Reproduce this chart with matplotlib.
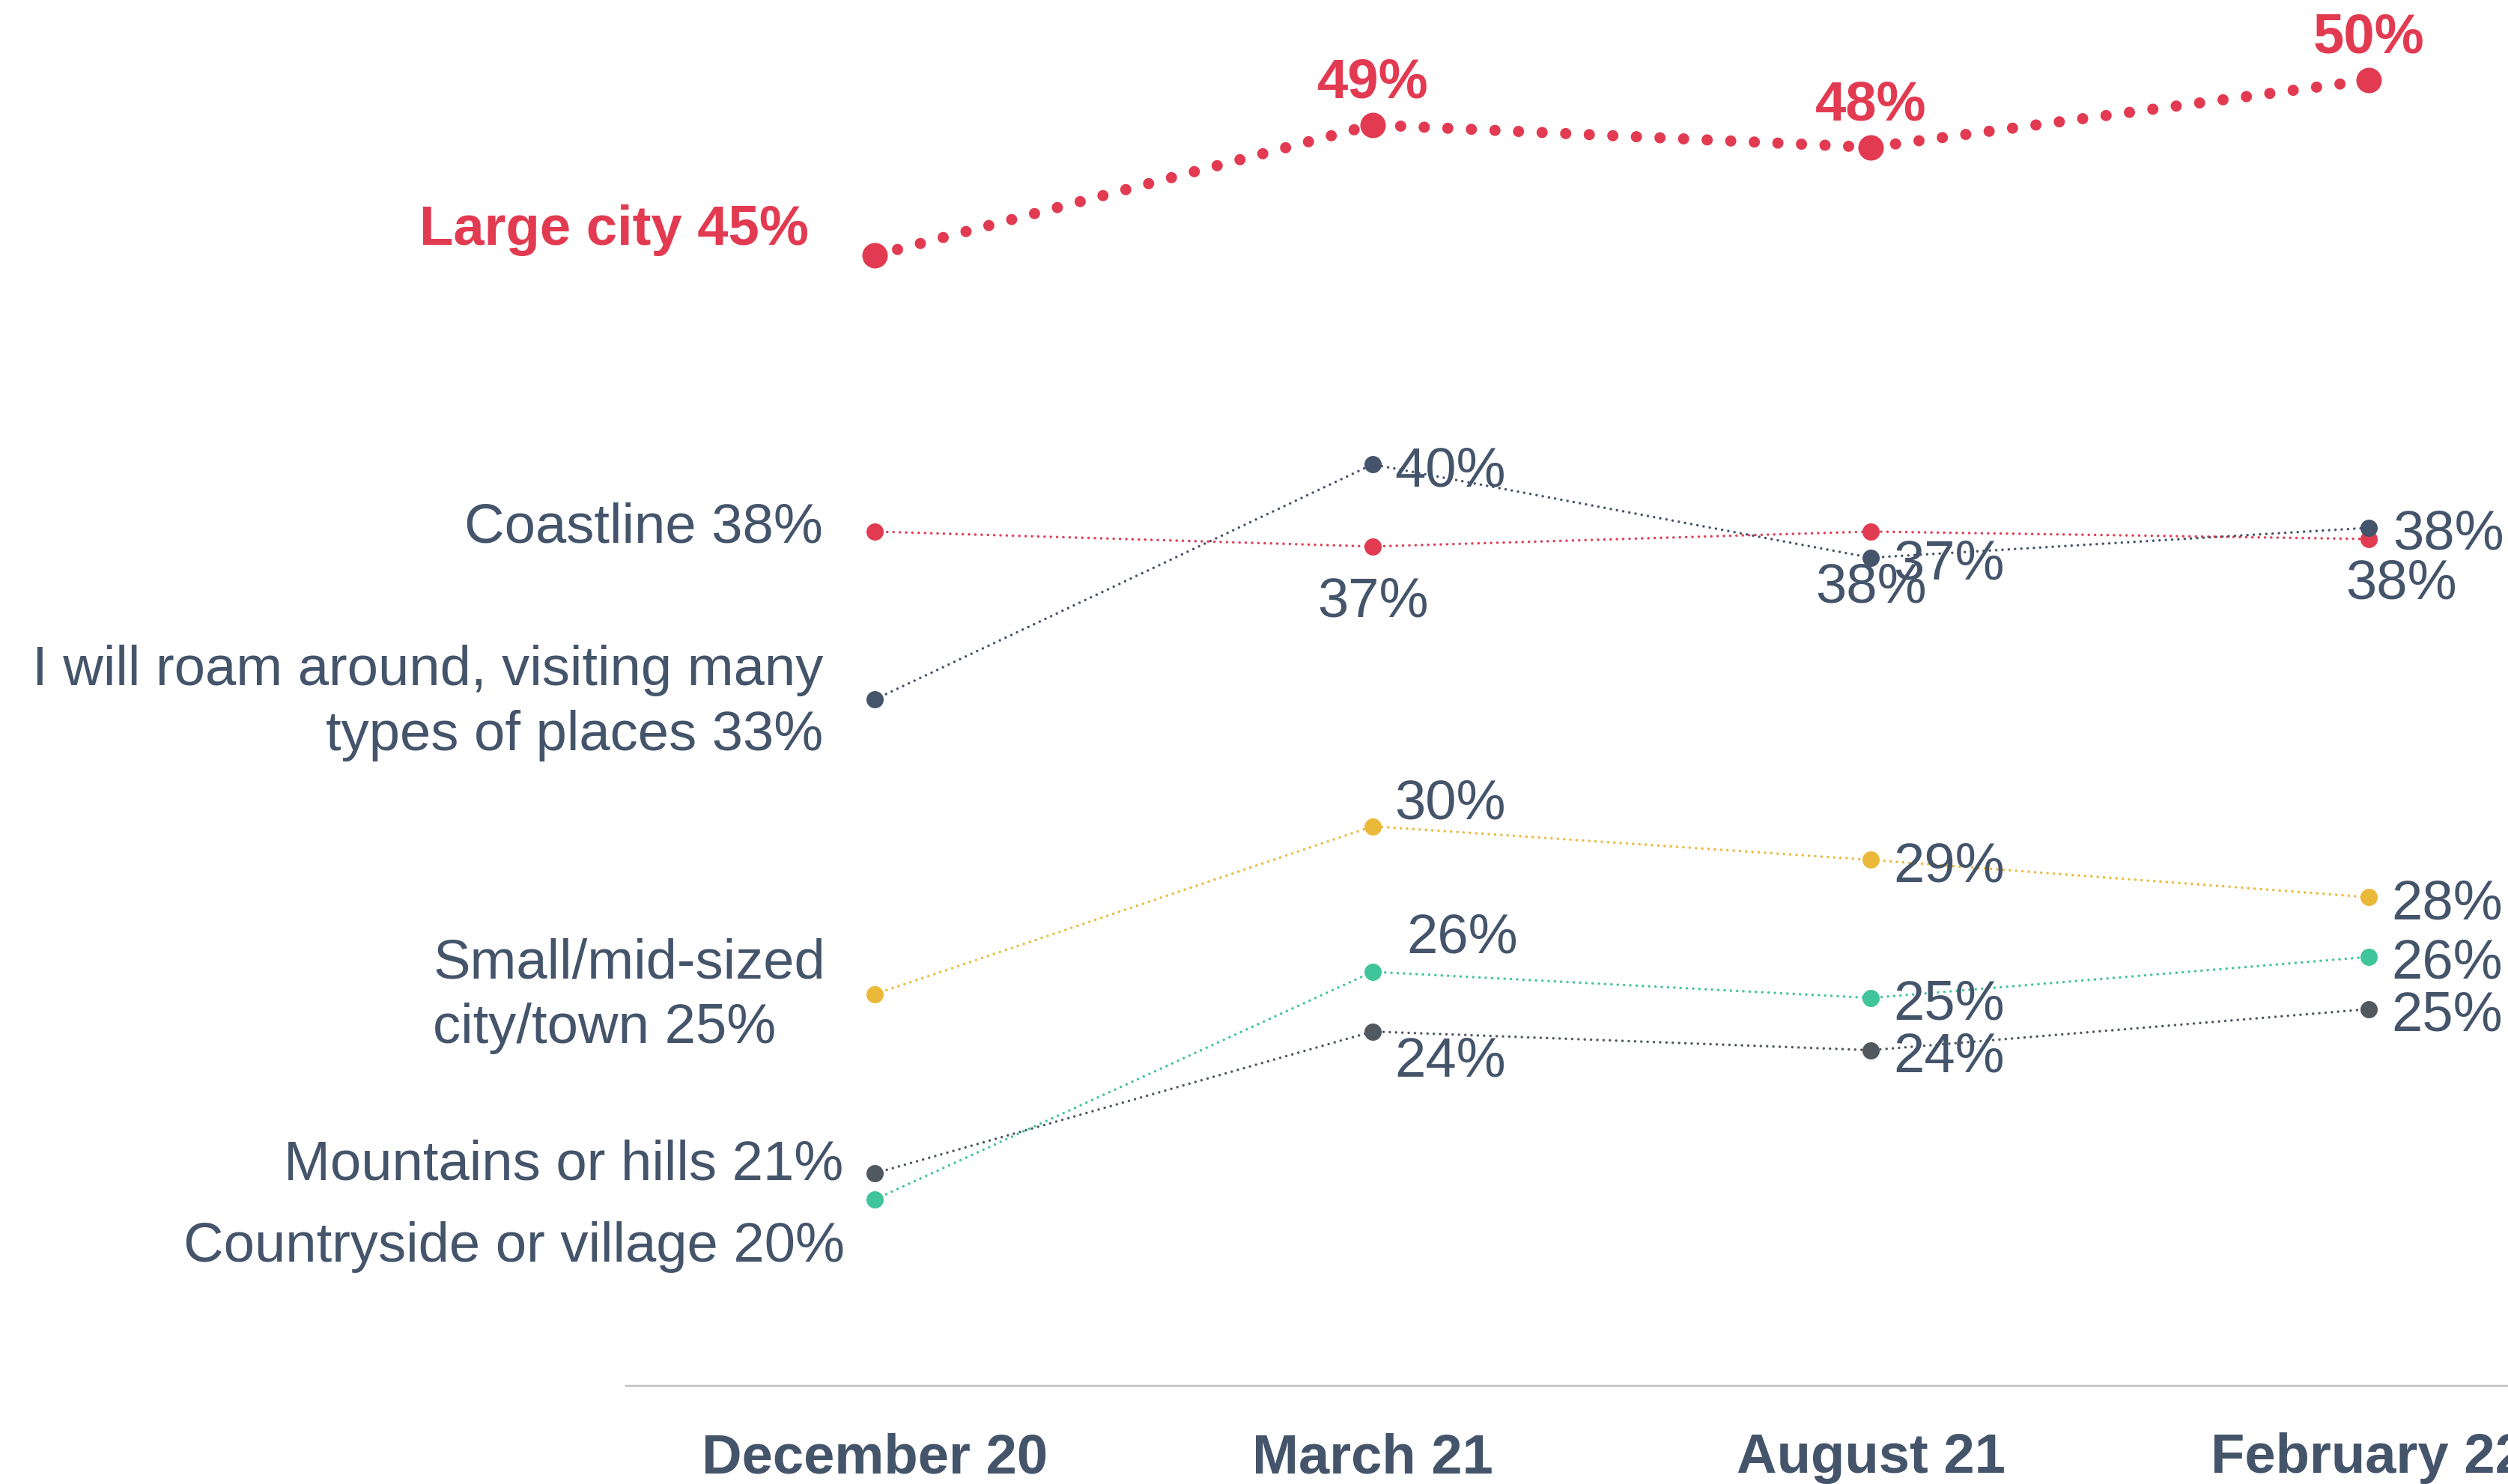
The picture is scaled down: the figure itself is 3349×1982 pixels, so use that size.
import matplotlib
matplotlib.use("Agg")
import matplotlib.pyplot as plt

plt.rcParams['font.family'] = ['Liberation Sans', 'DejaVu Sans']

# ---------------- data ----------------
periods = ["December 20", "March 21", "August 21", "February 22"]

large_city = [45.3, 48.8, 48.2, 50.0]
coastline = [37.9, 37.5, 37.9, 37.7]
roam = [33.4, 39.7, 37.2, 38.0]
small_city = [25.5, 30.0, 29.1, 28.1]
countryside = [20.0, 26.1, 25.4, 26.5]
mountains = [20.7, 24.5, 24.0, 25.1]

large_city_labels = ["45%", "49%", "48%", "50%"]
coastline_labels = ["38%", "37%", "38%", "38%"]
roam_labels = ["33%", "40%", "37%", "38%"]
small_city_labels = ["25%", "30%", "29%", "28%"]
countryside_labels = ["20%", "26%", "25%", "26%"]
mountains_labels = ["21%", "24%", "24%", "25%"]

names = ["Large city", "Coastline",
         "I will roam around, visiting many\ntypes of places",
         "Small/mid-sized\ncity/town", "Mountains or hills",
         "Countryside or village"]

# ---------------- style ----------------
RED = "#E23A51"
SLATE = "#44546A"
GREY_LINE = "#505860"
YELLOW = "#EBB93A"
TEAL = "#40C49A"
AXIS = "#BDC0C4"
FS = 53.5
PX = 0.72  # px -> pt at dpi 100

fig = plt.figure(figsize=(33.49, 19.83), dpi=100)
ax = fig.add_axes([0, 0, 1, 1])
ax.set_xlim(-1.7564, 3.2797)
ax.set_ylim(12.372, 52.167)

x = list(range(len(periods)))

# offsets per point: (ha, dx_px, dy_px_down, multialign)
series = [
    (coastline, coastline_labels, names[1], RED, SLATE, False, False,
     [("right", -69, 14, "right"), ("center", 0, 93, "center"),
      ("center", 0, 94, "center"), ("center", 44, 79, "center")]),
    (roam, roam_labels, names[2], SLATE, SLATE, False, False,
     [("right", -69, 67, "right"), ("left", 29, 28, "left"),
      ("left", 30, 28, "left"), ("left", 32, 28, "left")]),
    (small_city, small_city_labels, names[3], YELLOW, SLATE, False, False,
     [("right", -66, 64, "left"), ("left", 29, -11, "left"),
      ("left", 30, 28, "left"), ("left", 30, 28, "left")]),
    (mountains, mountains_labels, names[4], GREY_LINE, SLATE, False, False,
     [("right", -42, 7, "right"), ("left", 29, 59, "left"),
      ("left", 30, 28, "left"), ("left", 30, 28, "left")]),
    (countryside, countryside_labels, names[5], TEAL, SLATE, False, False,
     [("right", -40, 82, "right"), ("left", 45, -26, "left"),
      ("left", 30, 28, "left"), ("left", 30, 28, "left")]),
    (large_city, large_city_labels, names[0], RED, RED, True, True,
     [("right", -88, -15, "right"), ("center", 0, -37, "center"),
      ("center", 0, -37, "center"), ("center", 0, -37, "center")]),
]

for vals, labs, name, col, lcol, bold, big, offs in series:
    if big:
        lw_px, gap, ms_px = 15, 2.1, 34
    else:
        lw_px, gap, ms_px = 3.5, 2.4, 23
    ax.plot(x, vals, color=col, lw=lw_px * PX, linestyle=(0, (0.001, gap)),
            dash_capstyle='round', zorder=3)
    ax.plot(x, vals, linestyle='none', marker='o', ms=ms_px * PX, color=col,
            markeredgewidth=0, zorder=4)
    for i, (v, lab) in enumerate(zip(vals, labs)):
        ha, dx, dy, malign = offs[i]
        txt = f"{name} {lab}" if i == 0 else lab
        ax.annotate(txt, xy=(i, v), xytext=(dx * PX, -dy * PX),
                    textcoords='offset points', ha=ha, va='baseline',
                    multialignment=malign,
                    fontsize=FS, color=lcol,
                    fontweight='bold' if bold else 'normal', zorder=5,
                    linespacing=1.33)

# axis
for s in ['top', 'left', 'right']:
    ax.spines[s].set_visible(False)
ax.spines['bottom'].set_position(('data', 15))
ax.spines['bottom'].set_bounds(-0.5, 3.3)
ax.spines['bottom'].set_color(AXIS)
ax.spines['bottom'].set_linewidth(2.5 * PX)
ax.set_yticks([])
ax.set_xticks(x)
ax.set_xticklabels(periods)
ax.tick_params(axis='x', length=0, pad=44, labelsize=FS, labelcolor=SLATE)
for t in ax.get_xticklabels():
    t.set_fontweight('bold')

fig.savefig("out.png", dpi=100, facecolor='white')
